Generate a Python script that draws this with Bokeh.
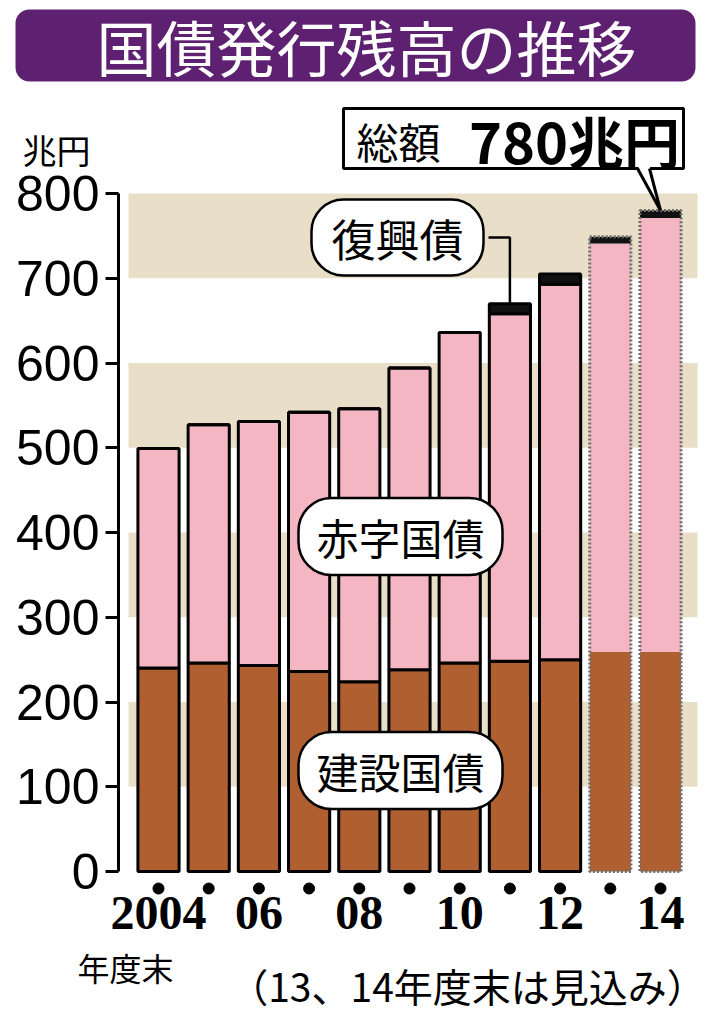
from bokeh.plotting import figure
from bokeh.models import ColumnDataSource, Range1d, FixedTicker, Label, BoxAnnotation
from bokeh.core.properties import value
from bokeh.embed import file_html
from bokeh.resources import INLINE

# ---------------- data (兆円) ----------------
fiscal_years = ["2004", "2005", "2006", "2007", "2008", "2009",
                "2010", "2011", "2012", "2013", "2014"]
construction_bonds = [240, 246, 243, 236, 224, 238, 246, 248, 250, 259, 259]   # 建設国債
deficit_bonds = [259, 281, 288, 306, 322, 356, 390, 410, 443, 482, 512]        # 赤字国債
reconstruction_bonds = [0, 0, 0, 0, 0, 0, 0, 12, 12, 8, 9]                     # 復興債
is_estimate = [False] * 9 + [True, True]                                        # 13、14年度末は見込み
y_ticks = [0, 100, 200, 300, 400, 500, 600, 700, 800]
x_tick_years = ["2004", "2006", "2008", "2010", "2012", "2014"]
x_tick_texts = ["2004", "06", "08", "10", "12", "14"]

title_text = "国債発行残高の推移"
unit_text = "兆円"
total_prefix = "総額"
year_end_text = "年度末"
note_text = "（13、14年度末は見込み）"
series_names = ["建設国債", "赤字国債", "復興債"]

# ---------------- colours ----------------
BROWN = "#B05F31"
PINK = "#F5B6C3"
BLACK = "#111111"
BEIGE = "#E9DEC8"
PURPLE = "#5E2070"
CJK = "Noto Sans CJK JP"

# ---------------- layout (page pixels) ----------------
W, H = 705, 1016
AXIS_X_PX, AXIS_Y_PX, BAND_L_PX, BAND_R_PX = 118, 894, 128, 697
BAR0_PX, PX_X = 158, 50.2        # first bar centre, pixels per bar slot
ZERO_PX, PX_Y = 871, 0.8475      # y=0 position, pixels per 兆円


def gx(px):
    return (px - BAR0_PX) / PX_X


def gy(py):
    return (ZERO_PX - py) / PX_Y


idx = list(range(len(fiscal_years)))
totals = [c + d + r for c, d, r in zip(construction_bonds, deficit_bonds, reconstruction_bonds)]
last = idx[-1]

p = figure(width=W, height=H, output_backend="svg", toolbar_location=None, title=None,
           x_range=Range1d(gx(0), gx(W)), y_range=Range1d(gy(H), gy(0)), min_border=0)
p.outline_line_color = None
p.background_fill_color = "white"
p.border_fill_color = "white"
p.xgrid.visible = False
p.ygrid.visible = False

# ---------------- title bar ----------------
p.add_layout(BoxAnnotation(left=gx(15), right=gx(695), top=gy(9), bottom=gy(81),
                           fill_color=PURPLE, fill_alpha=1.0, line_color=None,
                           border_radius=14, level="underlay"))
p.add_layout(Label(x=gx(366), y=gy(45), text=title_text, text_font=CJK,
                   text_font_size="60px", text_align="center", text_baseline="middle",
                   text_color="white"))
p.add_layout(Label(x=gx(56), y=gy(149), text=unit_text, text_font=CJK,
                   text_font_size="34px", text_align="center", text_baseline="middle",
                   text_color="black"))

# ---------------- background bands ----------------
band_lo = y_ticks[1:-1:2]
band_hi = y_ticks[2::2]
p.quad(left=gx(BAND_L_PX), right=gx(BAND_R_PX), bottom=band_lo, top=band_hi,
       fill_color=BEIGE, line_color=None)

# ---------------- bars ----------------
act = [i for i in idx if not is_estimate[i]]
est = [i for i in idx if is_estimate[i]]
src_act = ColumnDataSource(dict(
    x=act,
    c=[construction_bonds[i] for i in act],
    d=[deficit_bonds[i] for i in act],
    r=[reconstruction_bonds[i] for i in act]))
p.vbar_stack(["c", "d", "r"], x="x", width=0.82, source=src_act,
             fill_color=[BROWN, PINK, BLACK], line_color="black", line_width=3)

src_est = ColumnDataSource(dict(
    x=est,
    c=[construction_bonds[i] for i in est],
    d=[deficit_bonds[i] for i in est],
    r=[reconstruction_bonds[i] for i in est],
    t=[totals[i] for i in est]))
p.vbar_stack(["c", "d", "r"], x="x", width=0.82, source=src_est,
             fill_color=[BROWN, PINK, BLACK], line_color=None)
p.vbar(x="x", top="t", bottom=0, width=0.82, source=src_est, fill_color=None,
       line_color="#6e6e6e", line_width=3, line_dash="2 2")

# dots under each bar
p.scatter(x=idx, y=[gy(888)] * len(idx), size=11, color="black")

# ---------------- total callout ----------------
p.quad(left=gx(343), right=gx(683), top=gy(108), bottom=gy(168),
       fill_color="white", line_color="black", line_width=3)
tip_x, tip_y = last, totals[last]
p.patch(x=[gx(637), gx(649), tip_x], y=[gy(165), gy(165), tip_y],
        fill_color="white", line_color=None)
p.multi_line(xs=[[gx(637), tip_x], [gx(649), tip_x]],
             ys=[[gy(168), tip_y], [gy(168), tip_y]],
             line_color="black", line_width=3)
p.text(x=[gx(398)], y=[gy(140)], text=[total_prefix], text_font=value(CJK),
       text_font_size="42px", text_align="center", text_baseline="middle",
       text_color="black")
p.text(x=[gx(574)], y=[gy(139)], text=[f"{totals[last]}{unit_text}"], text_font=value(CJK),
       text_font_size="56px", text_font_style="bold", text_align="center",
       text_baseline="middle", text_color="black")

# ---------------- 復興債 leader line ----------------
first_r = next(i for i in idx if reconstruction_bonds[i] > 0)
pill_y = gy(237)
p.line(x=[gx(488), first_r, first_r], y=[pill_y, pill_y, totals[first_r]],
       line_color="black", line_width=2.5)

# ---------------- axes (drawn at fixed positions inside the page) ----------------
yax = p.yaxis[0]
yax.fixed_location = gx(AXIS_X_PX)
yax.ticker = FixedTicker(ticks=y_ticks)
yax.bounds = (y_ticks[0], y_ticks[-1])
yax.axis_line_width = 3
yax.axis_line_color = "black"
yax.major_tick_line_width = 3
yax.major_tick_out = 13
yax.major_tick_in = 0
yax.minor_tick_line_color = None
yax.major_label_text_font = "Liberation Sans"
yax.major_label_text_font_size = "50px"
yax.major_label_text_color = "black"
yax.major_label_standoff = 6

xax = p.xaxis[0]
xax.fixed_location = gy(AXIS_Y_PX)
xtick_pos = [fiscal_years.index(y) for y in x_tick_years]
xax.ticker = FixedTicker(ticks=xtick_pos)
xax.major_label_overrides = {pos: t for pos, t in zip(xtick_pos, x_tick_texts)}
xax.axis_line_color = None
xax.major_tick_line_color = None
xax.minor_tick_line_color = None
xax.major_tick_out = 0
xax.major_label_standoff = 2
xax.major_label_text_font = "Liberation Serif"
xax.major_label_text_font_style = "bold"
xax.major_label_text_font_size = "48px"
xax.major_label_text_color = "black"


# ---------------- series name pills ----------------
def pill(text, cx, cy, size, pad_lr, pad_tb, radius):
    return Label(x=gx(cx), y=gy(cy), text=text, text_font=CJK, text_font_size=size,
                 text_align="center", text_baseline="middle", text_color="black",
                 background_fill_color="white", border_line_color="black",
                 border_line_width=2.5,
                 padding=dict(left=pad_lr, right=pad_lr, top=pad_tb, bottom=pad_tb),
                 border_radius=radius)


p.add_layout(pill(series_names[2], 397, 237, "44px", 20, 6, 32))
p.add_layout(pill(series_names[1], 400, 536, "42px", 18, 8, 33))
p.add_layout(pill(series_names[0], 400, 770, "42px", 18, 8, 33))

# ---------------- footer ----------------
p.add_layout(Label(x=gx(125), y=gy(966), text=year_end_text, text_font=CJK,
                   text_font_size="32px", text_align="center", text_baseline="middle",
                   text_color="black"))
p.add_layout(Label(x=gx(467), y=gy(984), text=note_text, text_font=CJK,
                   text_font_size="39px", text_align="center", text_baseline="middle",
                   text_color="black"))

open("out.html", "w").write(file_html(p, INLINE))
